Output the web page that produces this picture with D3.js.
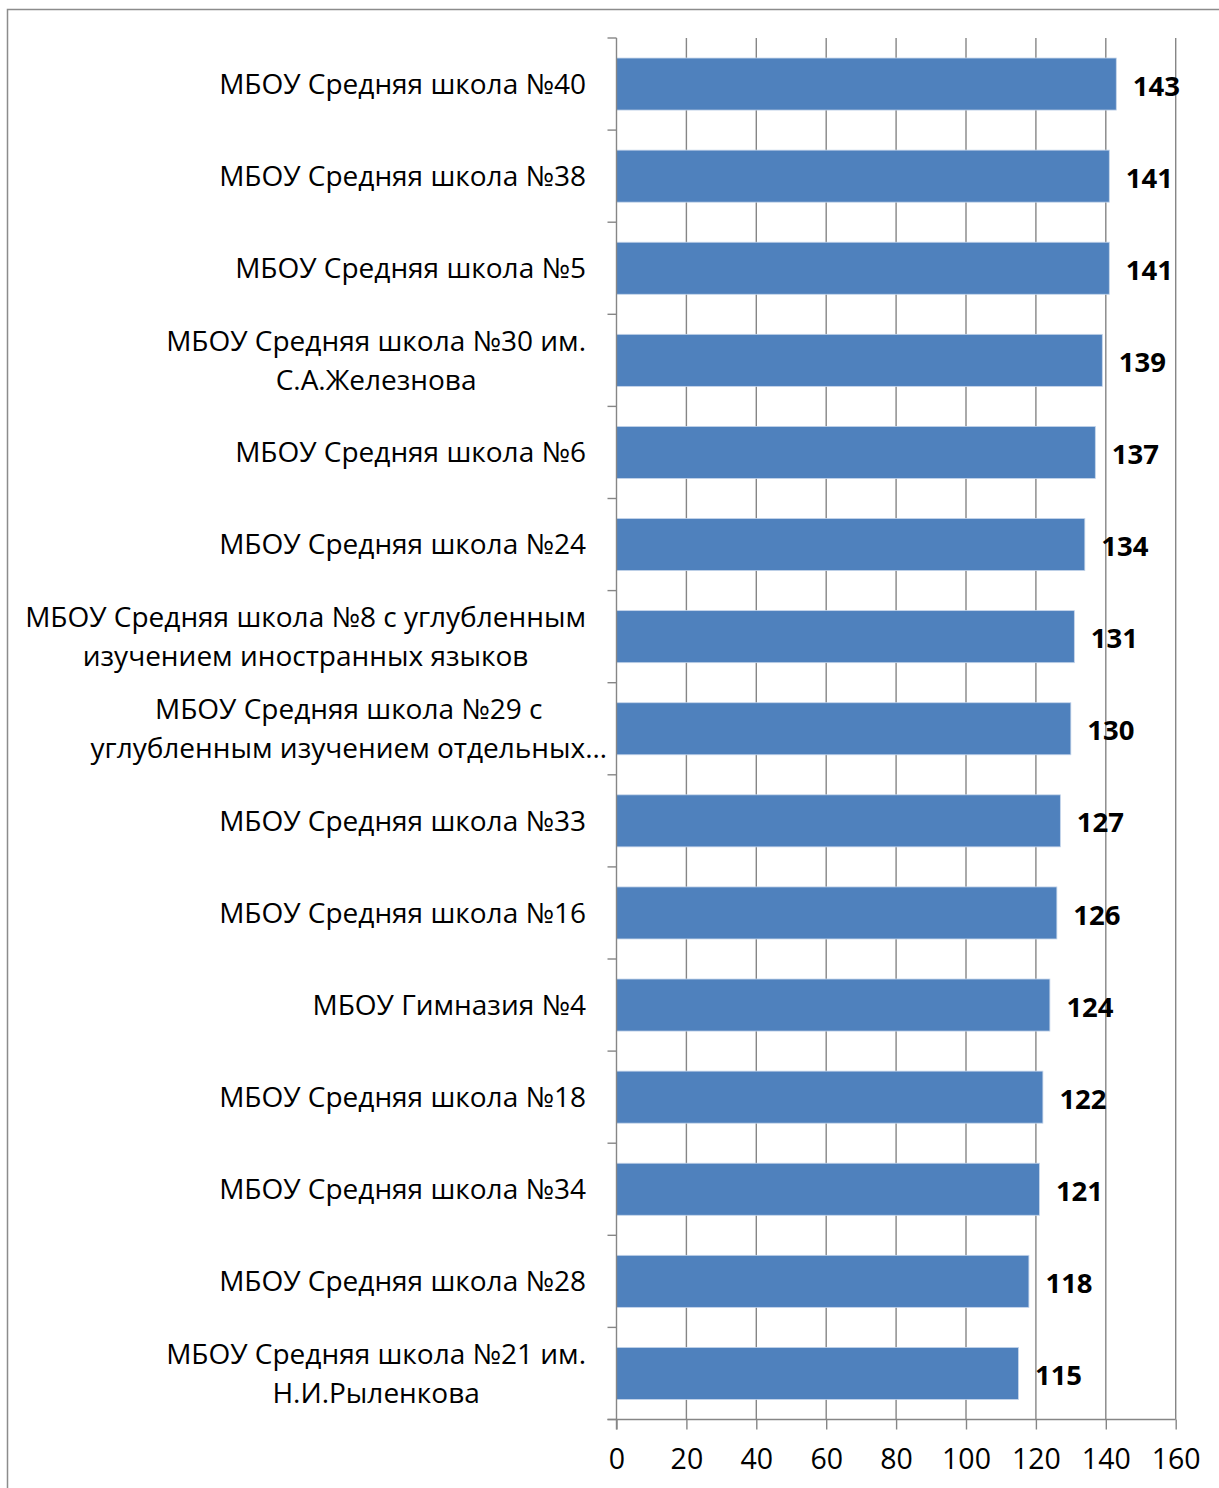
<!DOCTYPE html>
<html><head><meta charset="utf-8">
<script src="https://cdn.jsdelivr.net/npm/d3@7"></script>
<style>
html,body{margin:0;padding:0;background:#fff;}
svg{display:block;}
text{font-family:"Open Sans","Noto Sans",sans-serif;}
</style></head>
<body>
<svg id="chart" width="1219" height="1488"></svg>
<script>
const categories = [
  ["МБОУ Средняя школа №40"],
  ["МБОУ Средняя школа №38"],
  ["МБОУ Средняя школа №5"],
  ["МБОУ Средняя школа №30 им.", "С.А.Железнова"],
  ["МБОУ Средняя школа №6"],
  ["МБОУ Средняя школа №24"],
  ["МБОУ Средняя школа №8 с углубленным", "изучением иностранных языков"],
  ["МБОУ Средняя школа №29 с", "углубленным изучением отдельных…"],
  ["МБОУ Средняя школа №33"],
  ["МБОУ Средняя школа №16"],
  ["МБОУ Гимназия №4"],
  ["МБОУ Средняя школа №18"],
  ["МБОУ Средняя школа №34"],
  ["МБОУ Средняя школа №28"],
  ["МБОУ Средняя школа №21 им.", "Н.И.Рыленкова"]
];
const values = [143, 141, 141, 139, 137, 134, 131, 130, 127, 126, 124, 122, 121, 118, 115];
const xTicks = [0, 20, 40, 60, 80, 100, 120, 140, 160];

const svg = d3.select("#chart");
const FS = 28;
const FSV = 27.5;
const FST = 28.5;
const plot = {left: 616.5, right: 1175.7, top: 38, bottom: 1419.5};

// frame
svg.append("rect").attr("x", 7.5).attr("y", 9.5).attr("width", 1230).attr("height", 1500)
  .attr("fill", "#fff").attr("stroke", "#8c8c8c").attr("stroke-width", 1.5);

const x = d3.scaleLinear().domain([0, 160]).range([plot.left, plot.right]);
const idx = d3.range(categories.length);
const y = d3.scaleBand().domain(idx).range([plot.top, plot.bottom]).paddingInner(0.435).paddingOuter(0.2175);
const yb = d3.scaleBand().domain(idx).range([plot.top, plot.bottom]);

// vertical gridlines
svg.append("g").selectAll("line").data(xTicks.slice(1)).join("line")
  .attr("x1", d => x(d)).attr("x2", d => x(d))
  .attr("y1", plot.top).attr("y2", plot.bottom)
  .attr("stroke", "#868686").attr("stroke-width", 1.4);

// bars
svg.append("g").selectAll("rect").data(values).join("rect")
  .attr("x", x(0)).attr("y", (d, i) => y(i))
  .attr("width", d => x(d) - x(0)).attr("height", y.bandwidth())
  .attr("fill", "#4f81bd").attr("stroke", "#c5d5ea").attr("stroke-width", 0.8);

// x axis
const xAxis = d3.axisBottom(x).tickValues(xTicks).tickSize(10).tickPadding(19).tickSizeOuter(0);
const gx = svg.append("g").attr("transform", `translate(0,${plot.bottom})`).call(xAxis);
gx.select(".domain").attr("stroke", "#868686").attr("stroke-width", 1.4)
  .attr("d", `M${plot.left - 9},0H${plot.right}`);
gx.selectAll(".tick line").attr("stroke", "#868686").attr("stroke-width", 1.4);
gx.selectAll(".tick text").attr("fill", "#000").style("font-size", FST + "px")
  .style("font-family", '"Open Sans","Noto Sans",sans-serif');

// y axis line + category ticks at band boundaries
svg.append("line").attr("x1", plot.left).attr("x2", plot.left)
  .attr("y1", plot.top).attr("y2", plot.bottom + 10)
  .attr("stroke", "#868686").attr("stroke-width", 1.4);
const bounds = idx.map(i => yb(i)).concat([plot.bottom]);
svg.append("g").selectAll("line").data(bounds).join("line")
  .attr("x1", plot.left - 9).attr("x2", plot.left)
  .attr("y1", d => d).attr("y2", d => d)
  .attr("stroke", "#868686").attr("stroke-width", 1.4);

// category labels
const labelRight = 586;
const overflowRight = plot.left - 9.5;
const lh = 39;
const lg = svg.append("g");
categories.forEach((lines, i) => {
  const cy = yb(i) + yb.bandwidth() / 2;
  const t = lg.append("text").attr("text-anchor", "middle").attr("fill", "#000")
    .style("font-size", FS + "px");
  const spans = lines.map((ln, j) => t.append("tspan")
    .attr("y", cy + (j - (lines.length - 1) / 2) * lh).attr("dy", "0.35em").text(ln));
  let w = 0;
  spans.forEach(s => { w = Math.max(w, s.node().getComputedTextLength()); });
  const truncated = lines.some(l => l.endsWith("…"));
  const right = truncated ? overflowRight : labelRight;
  spans.forEach(s => s.attr("x", right - w / 2));
});

// value labels
svg.append("g").selectAll("text").data(values).join("text")
  .attr("x", d => x(d) + 16.5).attr("y", (d, i) => y(i) + y.bandwidth() / 2 + 2)
  .attr("dy", "0.35em").attr("fill", "#000")
  .style("font-size", FSV + "px").style("font-weight", "bold")
  .text(d => d);
</script>
</body></html>
